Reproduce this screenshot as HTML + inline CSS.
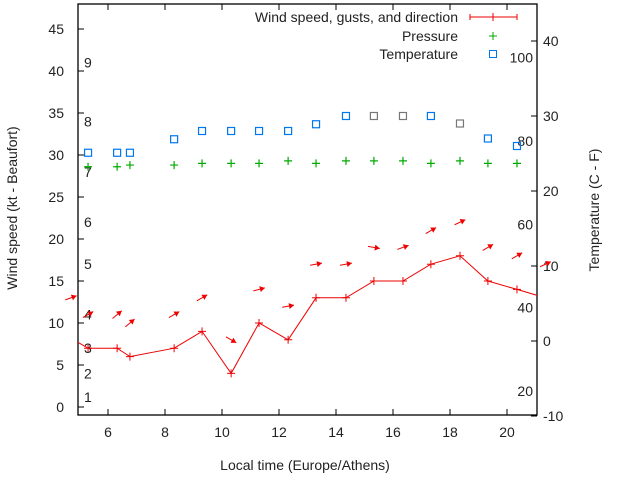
<!DOCTYPE html>
<html><head><meta charset="utf-8"><style>
body{margin:0;background:#fff}
svg text{font-family:"Liberation Sans",sans-serif;font-size:14px;fill:#222}
</style></head><body>
<svg id="c" width="640" height="480" xmlns="http://www.w3.org/2000/svg"></svg>
<script>
const hours=[4.3,5.3,6.32,6.77,8.32,9.3,10.32,11.3,12.32,13.3,14.35,15.33,16.35,17.33,18.35,19.33,20.35,21.35];
const wind=[9,7,7,6,7,9,4,10,8,13,13,15,15,17,18,15,14,13];
const arrowHours=[4.7,5.3,6.32,6.77,8.32,9.3,10.32,11.3,12.32,13.3,14.35,15.33,16.35,17.33,18.35,19.33,20.35,21.35];
const gusts=[13,11,11,10,11,13,8,14,12,17,17,19,19,21,22,19,18,17];
const dirs=[70,60,50,50,60,60,120,75,80,80,80,100,70,60,65,60,60,65];
const pHours=[5.3,6.32,6.77,8.32,9.3,10.32,11.3,12.32,13.3,14.35,15.33,16.35,17.33,18.35,19.33,20.35];
const pressure=[28.6,28.6,28.8,28.8,29.0,29.0,29.0,29.3,29.0,29.3,29.3,29.3,29.0,29.3,29.0,29.0];
const temps=[25.1,25.1,25.1,26.9,28,28,28,28,28.9,30,30,30,30,29,27,26];
const tempGray=[0,0,0,0,0,0,0,0,0,0,1,1,0,1,0,0];
const leftTicks=[0,5,10,15,20,25,30,35,40,45];
const rightTicks=[-10,0,10,20,30,40];
const xTicks=[6,8,10,12,14,16,18,20];
const beaufortLabels=["1","2","3","4","5","6","7","8","9"];
const beaufortKt=[1.2,4,7,11,17,22,28,34,41];
const fLabels=[20,40,60,80,100];

const L=78,R=537,T=4,B=415;
const X=h=>108+(h-6)*28.5;
const Y=v=>407-v*8.4;
const YT=t=>416-(t+10)*7.5;
const svg=document.getElementById('c');
const NS='http://www.w3.org/2000/svg';
function mk(tag,attrs,name,parent){const e=document.createElementNS(NS,tag);for(const k in attrs)e.setAttribute(k,attrs[k]);


(parent||svg).appendChild(e);return e;}
function txt(x,y,s,name,anchor,extra){const t=mk('text',Object.assign({x:x,y:y,'text-anchor':anchor||'start'},extra||{}),name);t.textContent=s;return t;}

const defs=mk('defs',{},'defs');
const cp=mk('clipPath',{id:'clip'},'plot-clip',defs);
mk('rect',{x:L,y:T,width:R-L,height:B-T},'clip-rect',cp);

mk('rect',{x:L,y:T,width:R-L,height:B-T,fill:'none',stroke:'#000','stroke-width':1.3},'plot-frame');
leftTicks.forEach(v=>{const y=Y(v);mk('line',{x1:L,x2:L+6,y1:y,y2:y,stroke:'#000'},'left-tick');txt(64,y+5,String(v),'left-tick-label','end');});
rightTicks.forEach(v=>{const y=YT(v);mk('line',{x1:R-6,x2:R,y1:y,y2:y,stroke:'#000'},'right-tick');txt(543,y+5,String(v),'right-tick-label','start');});
xTicks.forEach(v=>{const x=X(v);mk('line',{x1:x,x2:x,y1:B,y2:B-6,stroke:'#000'},'x-tick');mk('line',{x1:x,x2:x,y1:T,y2:T+6,stroke:'#000'},'x-tick-top');txt(x,B+22,String(v),'x-tick-label','middle');});
beaufortLabels.forEach((s,i)=>txt(84,Y(beaufortKt[i])+5,s,'beaufort-label'));
fLabels.forEach(f=>{const c=(f-32)*5/9;txt(533,YT(c)+5,String(f),'fahrenheit-label','end');});

txt(305,470,'Local time (Europe/Athens)','x-axis-title','middle');
txt(17,208,'Wind speed (kt - Beaufort)','left-axis-title','middle',{transform:'rotate(-90 17 208)'});
txt(599,210,'Temperature (C - F)','right-axis-title','middle',{transform:'rotate(-90 599 210)'});

const g=mk('g',{'clip-path':'url(#clip)'},'series-group');
mk('polyline',{points:hours.map((h,i)=>X(h)+','+Y(wind[i])).join(' '),fill:'none',stroke:'#e00'},'wind-line',g);
hours.forEach((h,i)=>{const x=X(h),y=Y(wind[i]);mk('path',{d:`M${x-4},${y}H${x+4}M${x},${y-4}V${y+4}`,stroke:'#e00'},'wind-point',g);});
arrowHours.forEach((h,i)=>{const cx=X(h),cy=Y(gusts[i]);const a=(90-dirs[i])*Math.PI/180;const dx=Math.cos(a)*6,dy=-Math.sin(a)*6;
const hx=cx+dx,hy=cy+dy;const ux=dx/6,uy=dy/6;
mk('line',{x1:cx-dx,y1:cy-dy,x2:hx,y2:hy,stroke:'#e00'},'gust-arrow-shaft');
mk('polygon',{points:`${hx},${hy} ${hx-ux*5-uy*3},${hy-uy*5+ux*3} ${hx-ux*5+uy*3},${hy-uy*5-ux*3}`,fill:'#e00'},'gust-arrow-head');});
pHours.forEach((h,i)=>{const x=X(h),y=Y(pressure[i]);mk('path',{d:`M${x-4},${y}H${x+4}M${x},${y-4}V${y+4}`,stroke:'#0a0','stroke-width':1.2},'pressure-point',g);});
pHours.forEach((h,i)=>{const x=X(h),y=YT(temps[i]);mk('rect',{x:x-3.5,y:y-3.5,width:7,height:7,fill:'none',stroke:tempGray[i]?'#777':'#07e','stroke-width':1.2},'temperature-point',g);});

txt(458,22,'Wind speed, gusts, and direction','legend-wind-label','end');
mk('line',{x1:470,x2:517,y1:17,y2:17,stroke:'#e00'},'legend-wind-line');
mk('path',{d:'M470,14V20M517,14V20M489,17H497M493,13V21',stroke:'#e00'},'legend-wind-marker');
txt(458,41,'Pressure','legend-pressure-label','end');
mk('path',{d:'M489,36H497M493,32V40',stroke:'#0a0'},'legend-pressure-marker');
txt(458,59,'Temperature','legend-temperature-label','end');
mk('rect',{x:489.5,y:50.5,width:7,height:7,fill:'none',stroke:'#07e'},'legend-temperature-marker');
</script>
</body></html>
